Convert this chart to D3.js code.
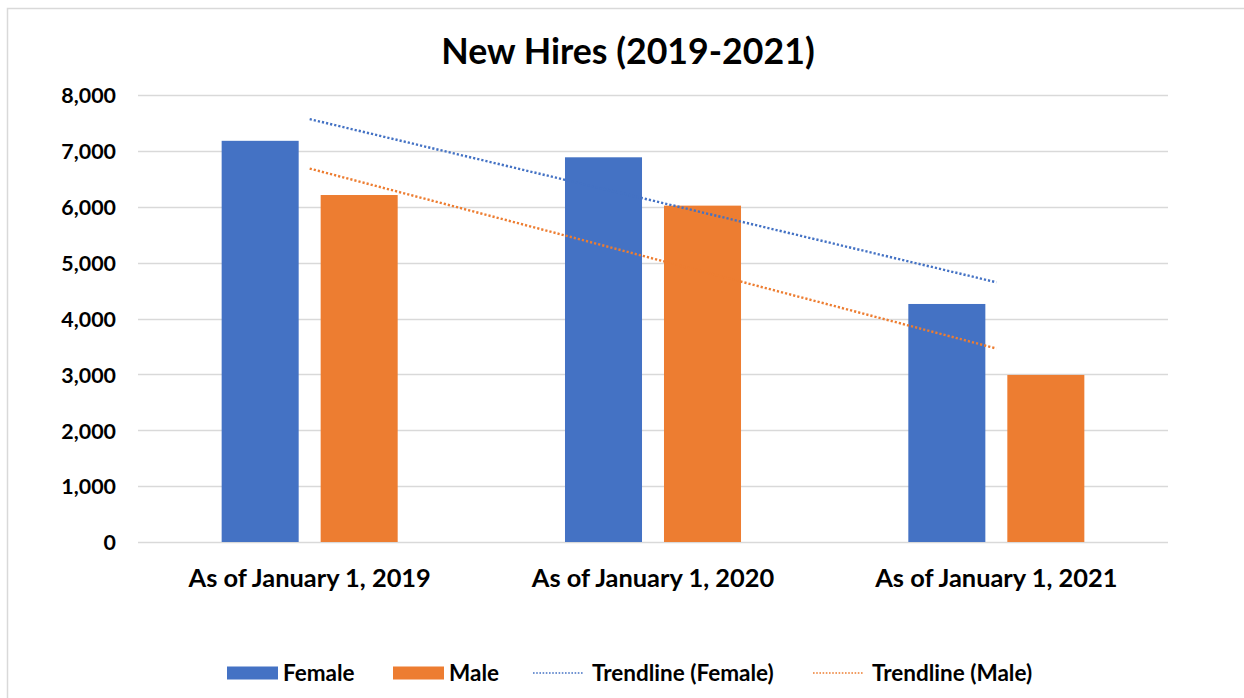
<!DOCTYPE html>
<html>
<head>
<meta charset="utf-8">
<script src="https://cdn.jsdelivr.net/npm/d3@7"></script>
<style>
  html, body { margin: 0; padding: 0; background: #fff; }
  svg { display: block; font-family: Lato, 'Open Sans', sans-serif; font-weight: bold; }
</style>
</head>
<body>
<svg id="chart" width="1244" height="698"></svg>
<script>
// MARK: Data.

const categories = ['As of January 1, 2019', 'As of January 1, 2020', 'As of January 1, 2021']
const series     = ['Female', 'Male']
const female     = [7180, 6885, 4260]
const male       = [6210, 6020, 2990]
const yTicks     = [0, 1000, 2000, 3000, 4000, 5000, 6000, 7000, 8000]

const colors = { Female: '#4472C4', Male: '#ED7D31' }
const values = { Female: female, Male: male }

// MARK: Layout.

const svg = d3.select('#chart')

svg.append('rect')
  .attr('x', 7.5).attr('y', 8.5)
  .attr('width', 1260).attr('height', 720)
  .attr('fill', '#fff')
  .attr('stroke', '#d9d9d9')
  .attr('stroke-width', 1.5)

const x = d3.scaleBand()
  .domain(categories)
  .range([138, 1168])

const xs = d3.scaleBand()
  .domain(series)
  .range([0, x.bandwidth()])
  .paddingInner(0.222)
  .paddingOuter(0.845)

const y = d3.scaleLinear()
  .domain([0, 8000])
  .range([542, 95])

// Gridlines.
svg.append('g')
  .selectAll('line')
  .data(yTicks).enter()
  .append('line')
  .attr('x1', 138).attr('x2', 1168)
  .attr('y1', (d) => Math.round(y(d)) + 0.5)
  .attr('y2', (d) => Math.round(y(d)) + 0.5)
  .attr('stroke', '#d9d9d9')
  .attr('stroke-width', 1.5)

// Y axis labels.
const yAxis = svg.append('g')
  .attr('transform', 'translate(116,1)')
  .call(d3.axisLeft(y).tickValues(yTicks).tickFormat(d3.format(',')).tickSize(0).tickPadding(0))
yAxis.select('.domain').remove()
yAxis.selectAll('text')
  .attr('font-family', 'Lato, sans-serif')
  .attr('font-weight', 'bold')
  .attr('font-size', 21.4)
  .attr('fill', '#000')

// X axis labels.
const xAxis = svg.append('g')
  .attr('transform', 'translate(0,569)')
  .call(d3.axisBottom(x).tickSize(0).tickPadding(0))
xAxis.select('.domain').remove()
xAxis.selectAll('text')
  .attr('font-family', 'Lato, sans-serif')
  .attr('font-weight', 'bold')
  .attr('font-size', 25.4)
  .attr('fill', '#000')

// Bars.
const groups = svg.append('g')
  .selectAll('g')
  .data(categories).enter()
  .append('g')
  .attr('transform', (d) => `translate(${x(d)},0)`)

groups.selectAll('rect')
  .data((d, i) => series.map((s) => ({ s, v: values[s][i] })))
  .enter()
  .append('rect')
  .attr('x', (d) => xs(d.s))
  .attr('y', (d) => y(d.v))
  .attr('width', xs.bandwidth())
  .attr('height', (d) => y(0) - y(d.v))
  .attr('fill', (d) => colors[d.s])

// Linear trendlines (least squares on category index).
function fit(vals) {
  const xi = vals.map((_, i) => i + 1)
  const mx = d3.mean(xi)
  const my = d3.mean(vals)
  const sl = d3.sum(xi.map((v, i) => (v - mx) * (vals[i] - my))) / d3.sum(xi.map((v) => (v - mx) * (v - mx)))
  return xi.map((v) => my + sl * (v - mx))
}

const cx = (c) => x(c) + x.bandwidth() / 2

series.forEach((s) => {
  const pts = fit(values[s])
  svg.append('line')
    .attr('x1', cx(categories[0]))
    .attr('y1', y(pts[0]))
    .attr('x2', cx(categories[categories.length - 1]))
    .attr('y2', y(pts[pts.length - 1]))
    .attr('stroke', colors[s])
    .attr('stroke-width', 2.4)
    .attr('stroke-dasharray', '2.2 2')
})

// Title.
svg.append('text')
  .attr('x', 628).attr('y', 64)
  .attr('text-anchor', 'middle')
  .attr('font-size', 35.7)
  .attr('fill', '#000')
  .text('New Hires (2019-2021)')

// Legend.
const legend = [
  { label: 'Female',             type: 'rect', color: colors.Female, x: 227 },
  { label: 'Male',               type: 'rect', color: colors.Male,   x: 393 },
  { label: 'Trendline (Female)', type: 'line', color: colors.Female, x: 533 },
  { label: 'Trendline (Male)',   type: 'line', color: colors.Male,   x: 813 },
]

const items = svg.append('g')
  .selectAll('g')
  .data(legend).enter()
  .append('g')
  .attr('transform', (d) => `translate(${d.x},673)`)

items.filter((d) => d.type === 'rect').append('rect')
  .attr('x', 0).attr('y', -6.5)
  .attr('width', 51).attr('height', 13)
  .attr('fill', (d) => d.color)
items.filter((d) => d.type === 'line').append('line')
  .attr('x1', 0).attr('x2', 51)
  .attr('y1', 0).attr('y2', 0)
  .attr('stroke', (d) => d.color)
  .attr('stroke-width', 1.6)
  .attr('stroke-dasharray', '1.6 1.6')
items.append('text')
  .attr('x', (d) => d.type === 'rect' ? 56 : 59)
  .attr('y', 7.5)
  .attr('font-size', 22.5)
  .attr('fill', '#000')
  .text((d) => d.label)
</script>
</body>
</html>
